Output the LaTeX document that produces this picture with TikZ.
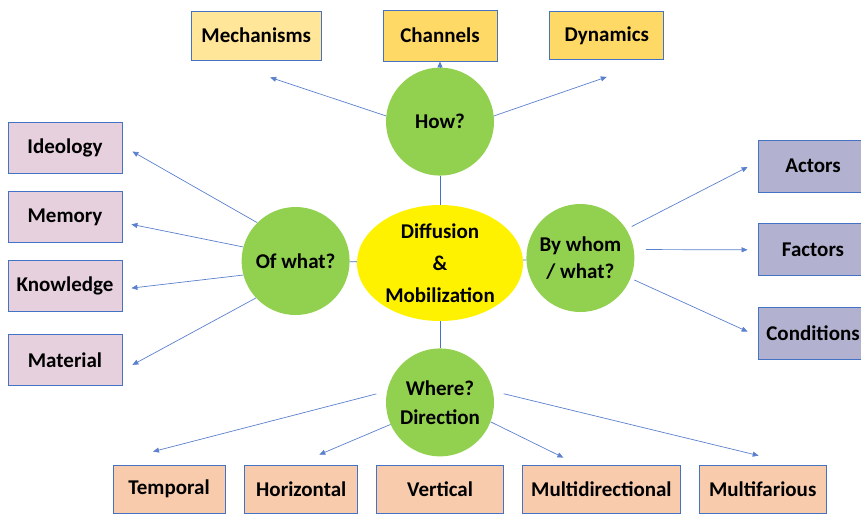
\documentclass[tikz,border=0pt]{standalone}
\usepackage{fontspec}
\setmainfont{Carlito}
\usepackage{xcolor}
\usepackage{tikz}
\usetikzlibrary{positioning,calc,arrows.meta,shapes.geometric}

\definecolor{boxline}{RGB}{68,114,196}
\definecolor{linkblue}{RGB}{91,128,205}
\definecolor{qgreen}{RGB}{146,208,80}
\definecolor{howlight}{RGB}{255,230,153}
\definecolor{howdark}{RGB}{255,217,102}
\definecolor{whatpink}{RGB}{230,208,222}
\definecolor{whogrey}{RGB}{178,178,208}
\definecolor{wherepeach}{RGB}{248,203,173}

\begin{document}
\begin{tikzpicture}[x=1pt, y=-1pt, font=\fontsize{21}{25}\selectfont\bfseries]
            \tikzstyle{hub} = [ellipse, fill=yellow, minimum width=166pt, minimum height=116pt, inner sep=0pt, align=center, font=\fontsize{21}{32}\selectfont\bfseries]
            \tikzstyle{question} = [circle, fill=qgreen, minimum size=108pt, inner sep=0pt, align=center]
            \tikzstyle{topic} = [rectangle, draw=boxline, line width=0.8pt, inner sep=0pt]
            \tikzstyle{spoke} = [draw=boxline, line width=0.8pt]
            \tikzstyle{link} = [draw=linkblue, line width=0.7pt, -{Triangle[length=6pt, width=5pt]}]

            \useasboundingbox (0,0) rectangle (861,515);

            \node [hub] (dm) at (440,263) {Diffusion\\\&\\Mobilization};

            \node [question, above = 29pt of dm] (how) {How?};
            \node [question, left = 7pt of dm, yshift=2pt] (ofw) {Of what?};
            \node [question, right = 3pt of dm, yshift=5pt, font=\fontsize{21}{27}\selectfont\bfseries] (bw) {By whom\\/ what?};
            \node [question, below = 27pt of dm, font=\fontsize{21}{29}\selectfont\bfseries] (where) {Where?\\Direction};

            \node [topic, fill=howdark, minimum width=114pt, minimum height=51pt, above = 6pt of how] (chan) {Channels};
            \node [topic, fill=howlight, minimum width=130pt, minimum height=49pt, left = 61pt of chan] (mech) {Mechanisms};
            \node [topic, fill=howdark, minimum width=114pt, minimum height=48pt, right = 52pt of chan] (dyn) {Dynamics};

            \node [topic, fill=whatpink, minimum width=114pt, minimum height=51pt] (ideo) at (65,147.5) {Ideology};
            \node [topic, fill=whatpink, minimum width=114pt, minimum height=51pt, below = 18pt of ideo] (mem) {Memory};
            \node [topic, fill=whatpink, minimum width=114pt, minimum height=51pt, below = 17pt of mem] (know) {Knowledge};
            \node [topic, fill=whatpink, minimum width=114pt, minimum height=51pt, below = 22pt of know] (mat) {Material};

            \node [topic, fill=whogrey, minimum width=110pt, minimum height=52pt] (act) at (813,166) {Actors};
            \node [topic, fill=whogrey, minimum width=110pt, minimum height=52pt, below = 31pt of act] (fact) {Factors};
            \node [topic, fill=whogrey, minimum width=110pt, minimum height=52pt, below = 31pt of fact] (cond) {Conditions};

            \node [topic, fill=wherepeach, minimum width=112pt, minimum height=48pt] (temp) at (169,489) {Temporal};
            \node [topic, fill=wherepeach, minimum width=113pt, minimum height=48pt, right = 19pt of temp] (hor) {Horizontal};
            \node [topic, fill=wherepeach, minimum width=127pt, minimum height=48pt, right = 18pt of hor] (vert) {Vertical};
            \node [topic, fill=wherepeach, minimum width=158pt, minimum height=48pt, right = 18pt of vert] (mdir) {Multidirectional};
            \node [topic, fill=wherepeach, minimum width=127pt, minimum height=48pt, right = 18pt of mdir] (mfar) {Multifarious};

            \draw [spoke] (dm) to (how);
            \draw [spoke] (dm) to (ofw);
            \draw [spoke] (dm) to (bw);
            \draw [spoke] (dm) to (where);

            \draw [link] (how.174) to ($(mech.south)+(14,17)$);
            \draw [link] (how) to (chan);
            \draw [link] (how.6) to ($(dyn.south)+(0,17)$);

            \draw [link] (ofw.135) to ($(ideo.east)+(10,4)$);
            \draw [link] (ofw.165) to ($(mem.east)+(9,7)$);
            \draw [link] (ofw.195) to ($(know.east)+(9,2)$);
            \draw [link] (ofw.223) to ($(mat.east)+(10,5)$);

            \draw [link, shorten <=6pt] (bw.32) to ($(act.west)+(-10,1)$);
            \draw [link, shorten <=12pt] (bw.9) to ($(fact.west)+(-10,0)$);
            \draw [link, shorten <=4pt] (bw.-22) to ($(cond.west)+(-10,-2)$);

            \draw [link, shorten <=11pt] (where.168) to ($(temp.north)+(-16,-13)$);
            \draw [link] (where.204) to ($(hor.north)+(18,-10)$);
            \draw [link] (where.-21) to ($(mdir.north)+(-38,-7)$);
            \draw [link, shorten <=11pt] (where.12) to ($(mfar.north)+(-4,-9)$);
        \end{tikzpicture}
\end{document}
